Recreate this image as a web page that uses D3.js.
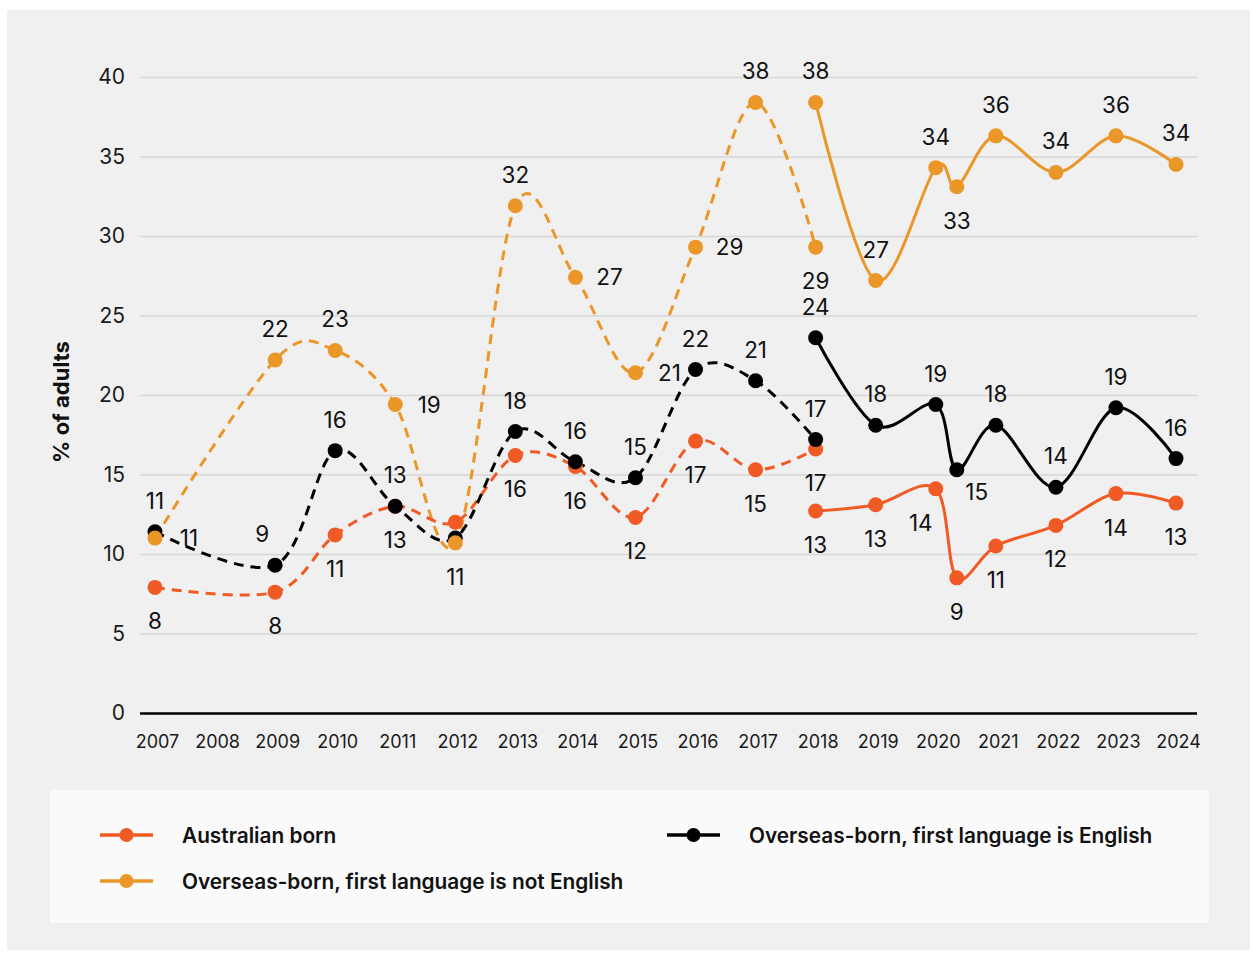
<!DOCTYPE html>
<html><head><meta charset="utf-8">
<script src="https://cdn.jsdelivr.net/npm/d3@7"></script>
<style>
body{margin:0;background:#fff;}
svg{display:block;font-family:Inter,"Noto Sans",sans-serif;}
</style></head>
<body>
<svg id="chart" width="1253" height="953"></svg>
<script>
// ---------- data ----------
const years = [2007,2008,2009,2010,2011,2012,2013,2014,2015,2016,2017,2018,2019,2020,2021,2022,2023,2024];
const yTicks = [0,5,10,15,20,25,30,35,40];

// earlier method (dashed), 2007-2018
const xOld = [2007,2009,2010,2011,2012,2013,2014,2015,2016,2017,2018];
// newer method (solid), 2018-2024 (two readings in 2020)
const xNew = [2018,2019,2020,2020.35,2021,2022,2023,2024];

const ausOld = [7.9,7.6,11.2,13.0,12.0,16.2,15.5,12.3,17.1,15.3,16.6];
const ausOldLbl = ["8","8","11","13",null,"16","16","12","17","15","17"];
const ausNew = [12.7,13.1,14.1,8.5,10.5,11.8,13.8,13.2];
const ausNewLbl = ["13","13","14","9","11","12","14","13"];

const engOld = [11.4,9.3,16.5,13.0,11.0,17.7,15.8,14.8,21.6,20.9,17.2];
const engOldLbl = ["11","9","16","13",null,"18","16","15","22","21","17"];
const engNew = [23.6,18.1,19.4,15.3,18.1,14.2,19.2,16.0];
const engNewLbl = ["24","18","19","15","18","14","19","16"];

const nesOld = [11.0,22.2,22.8,19.4,10.7,31.9,27.4,21.4,29.3,38.4,29.3];
const nesOldLbl = ["11","22","23","19","11","32","27","21","29","38","29"];
const nesNew = [38.4,27.2,34.3,33.1,36.3,34.0,36.3,34.5];
const nesNewLbl = ["38","27","34","33","36","34","36","34"];

// label placement codes: a=above, al=above-left, b=below, bl=below-left, br=below-right, r=right
const ausOldPos = ["b","b","b","b","b","b","b","b","b","b","b"];
const ausNewPos = ["b","b","bl","b","b","b","b","b"];
const engOldPos = ["a","al","a","a","a","a","a","a","a","a","a"];
const engNewPos = ["a","a","a","br","a","a","a","a"];
const nesOldPos = ["r","a","a","r","b","a","r","r","r","a","b"];
const nesNewPos = ["a","a","a","b","a","a","a","a"];

const seriesNames = ["Australian born","Overseas-born, first language is English","Overseas-born, first language is not English"];
const colors = ["#f05a24","#000000","#eb9628"];

// ---------- layout ----------
const svg = d3.select("#chart");
svg.append("rect").attr("x",7).attr("y",10).attr("width",1243).attr("height",940).attr("fill","#f0f0f0");

const x = d3.scaleLinear().domain([2007,2024]).range([155,1176]);
const y = d3.scaleLinear().domain([0,40]).range([713,77]);
const gridX0 = 140, gridX1 = 1197;

// gridlines + y labels
const yAxis = d3.axisLeft(y).tickValues(yTicks).tickSize(-(gridX1-gridX0)).tickPadding(15);
const gy = svg.append("g").attr("transform",`translate(${gridX0},0)`).call(yAxis);
gy.select(".domain").remove();
gy.selectAll(".tick line").attr("stroke","#d6d6d6").attr("stroke-width",1.5);
gy.selectAll(".tick text").attr("font-size",21).attr("fill","#1a1a1a").attr("font-family","Inter,sans-serif");
gy.selectAll(".tick").filter(d=>d===0).select("line").attr("stroke","#000").attr("stroke-width",2.5);

// x labels
const xAxis = d3.axisBottom(x).tickValues(years).tickFormat(d3.format("d")).tickSize(0).tickPadding(22);
const gx = svg.append("g").attr("transform","translate(2,713)").call(xAxis);
gx.select(".domain").remove();
gx.selectAll(".tick text").attr("font-size",18).attr("fill","#1a1a1a").attr("font-family","Inter,sans-serif");

// y title
svg.append("text").attr("transform","translate(69,402) rotate(-90)").attr("text-anchor","middle")
  .attr("font-size",22).attr("font-weight",700).attr("fill","#111").text("% of adults");

const line = d3.line().x(d=>x(d[0])).y(d=>y(d[1])).curve(d3.curveCatmullRom.alpha(0));

function drawSeries(xs, vals, color, dashed){
  const pts = xs.map((xv,i)=>[xv,vals[i]]);
  svg.append("path").datum(pts).attr("d",line).attr("fill","none").attr("stroke",color)
    .attr("stroke-width",3).attr("stroke-dasharray",dashed?"10,7":null).attr("stroke-linecap","butt");
}
function drawPoints(xs, vals, color){
  svg.append("g").selectAll("circle").data(xs.map((xv,i)=>[xv,vals[i]])).join("circle")
    .attr("cx",d=>x(d[0])).attr("cy",d=>y(d[1])).attr("r",7.5).attr("fill",color);
}
function drawLabels(xs, vals, lbls, pos){
  const off = {a:[0,-23],al:[-13,-23],b:[0,42],bl:[-15,42],br:[20,30],r:[34,8]};
  svg.append("g").selectAll("text").data(xs.map((xv,i)=>({x:xv,v:vals[i],t:lbls[i],p:pos[i]})).filter(d=>d.t!==null)).join("text")
    .attr("x",d=>x(d.x)+off[d.p][0]).attr("y",d=>y(d.v)+off[d.p][1])
    .attr("text-anchor","middle").attr("font-size",22.5).attr("fill","#111").text(d=>d.t);
}

drawSeries(xOld, nesOld, colors[2], true);
drawSeries(xOld, ausOld, colors[0], true);
drawSeries(xOld, engOld, colors[1], true);
drawSeries(xNew, nesNew, colors[2], false);
drawSeries(xNew, ausNew, colors[0], false);
drawSeries(xNew, engNew, colors[1], false);

drawPoints(xOld, ausOld, colors[0]);
drawPoints(xOld, engOld, colors[1]);
drawPoints(xOld, nesOld, colors[2]);
drawPoints(xNew, ausNew, colors[0]);
drawPoints(xNew, engNew, colors[1]);
drawPoints(xNew, nesNew, colors[2]);

drawLabels(xOld, ausOld, ausOldLbl, ausOldPos);
drawLabels(xNew, ausNew, ausNewLbl, ausNewPos);
drawLabels(xOld, engOld, engOldLbl, engOldPos);
drawLabels(xNew, engNew, engNewLbl, engNewPos);
drawLabels(xOld, nesOld, nesOldLbl, nesOldPos);
drawLabels(xNew, nesNew, nesNewLbl, nesNewPos);

// legend
svg.append("rect").attr("x",50).attr("y",790).attr("width",1159).attr("height",133).attr("fill","#fafafa");
const legendItems = [
  {name:seriesNames[0], color:colors[0], lx:100, ly:835},
  {name:seriesNames[1], color:colors[1], lx:667, ly:835},
  {name:seriesNames[2], color:colors[2], lx:100, ly:881}
];
const lg = svg.append("g").selectAll("g").data(legendItems).join("g");
lg.append("line").attr("x1",d=>d.lx).attr("x2",d=>d.lx+53).attr("y1",d=>d.ly).attr("y2",d=>d.ly)
  .attr("stroke",d=>d.color).attr("stroke-width",3.5);
lg.append("circle").attr("cx",d=>d.lx+26.5).attr("cy",d=>d.ly).attr("r",7).attr("fill",d=>d.color);
lg.append("text").attr("x",d=>d.lx+82).attr("y",d=>d.ly+7.5).attr("font-size",20.8).attr("font-weight",600)
  .attr("fill","#111").text(d=>d.name);
</script>
</body></html>
